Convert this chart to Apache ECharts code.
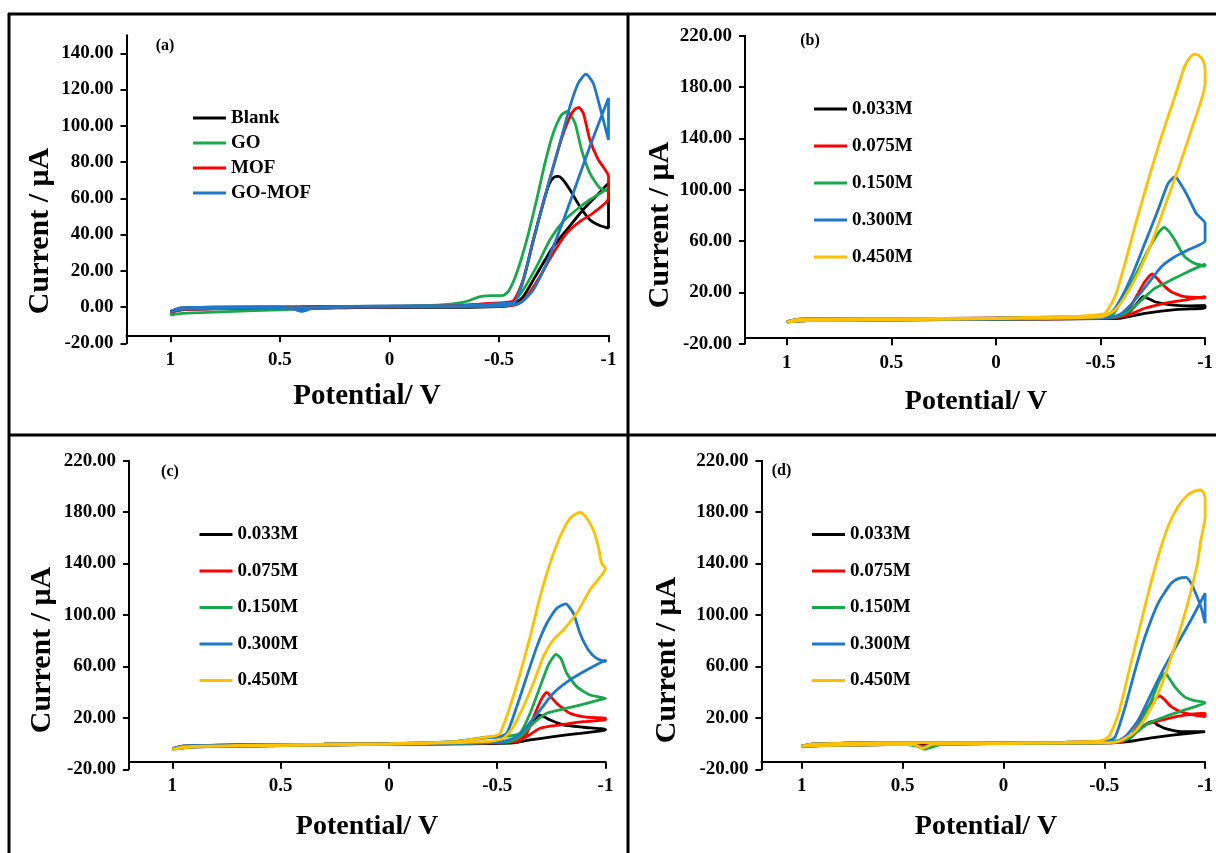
<!DOCTYPE html>
<html>
<head>
<meta charset="utf-8">
<script src="https://cdn.jsdelivr.net/npm/echarts@6/dist/echarts.min.js"></script>
<style>
  html, body { margin: 0; padding: 0; background: #ffffff; }
  #chart { width: 1216px; height: 853px; }
</style>
</head>
<body>
<div id="chart"></div>
<script>
// ---- axis ticks ----
const potentialTicks = [1, 0.5, 0, -0.5, -1];
const currentTicksA = [-20, 0, 20, 40, 60, 80, 100, 120, 140];
const currentTicksBCD = [-20, 20, 60, 100, 140, 180, 220];

// ---- legend names ----
const electrodeNames = ['Blank', 'GO', 'MOF', 'GO-MOF'];
const concNames = ['0.033M', '0.075M', '0.150M', '0.300M', '0.450M'];

// ---- (a) electrode comparison: [potential V, current µA] ----
const aBlank = [[1,-2.5],[0.95,-0.5],[0.8,0],[0.4,0.2],[0,0.5],[-0.3,0.8],[-0.45,1.5],[-0.52,2],[-0.566,2.2],[-0.611,15],[-0.657,37],[-0.702,57.4],[-0.73,68],[-0.75,71.5],[-0.771,72.1],[-0.79,70.5],[-0.824,64.7],[-0.869,55.5],[-0.915,48.2],[-0.96,45],[-1,43.6],
  [-1,68.4],[-0.95,62],[-0.884,53.7],[-0.809,42.6],[-0.748,33.4],[-0.702,24.3],[-0.657,15],[-0.611,5.8],[-0.566,1.3],[-0.5,0.2],[-0.3,-0.2],[0,0],[0.4,-0.8],[0.8,-1],[0.95,-1.5],[1,-2.5]];
const aGO = [[1,-4.5],[0.95,-3.5],[0.8,-2.8],[0.5,-1.5],[0.2,0],[-0.1,0.5],[-0.25,1.3],[-0.35,3],[-0.414,5.8],[-0.47,6.3],[-0.52,6.5],[-0.545,9],[-0.581,18.8],[-0.627,37.1],[-0.672,59.2],[-0.71,79.4],[-0.748,96],[-0.786,106.1],[-0.812,107.9],[-0.847,101.5],[-0.877,86.8],[-0.915,73.9],[-0.96,65.7],[-1,63.9],
  [-1,65.5],[-0.915,59.2],[-0.854,53.7],[-0.793,47.2],[-0.733,37.1],[-0.672,22.4],[-0.611,9.5],[-0.566,3],[-0.5,1],[-0.3,0.5],[0,0.3],[0.5,0],[0.9,-0.5],[0.97,-1.5],[1,-4.5]];
const aMOF = [[1,-3],[0.95,-1],[0.8,-0.5],[0.5,-0.3],[0.44,-1],[0.41,-1.8],[0.37,-1],[0.3,0],[0,0.3],[-0.3,0.8],[-0.45,2],[-0.52,2.5],[-0.566,3.5],[-0.611,15],[-0.657,37],[-0.702,57.4],[-0.74,74],[-0.786,93],[-0.824,105],[-0.845,109],[-0.865,110.1],[-0.885,107],[-0.915,92.3],[-0.953,81.3],[-1,72.1],
  [-1,60.1],[-0.93,51.9],[-0.869,47.2],[-0.809,40.8],[-0.748,29.8],[-0.687,16.9],[-0.627,5.8],[-0.58,1.3],[-0.5,0.5],[-0.2,0.3],[0.3,-0.2],[0.8,-0.8],[0.95,-1.5],[1,-3]];
const aGOMOF = [[1,-2.8],[0.95,-0.5],[0.8,0],[0.5,0],[0.44,-1],[0.4,-2.4],[0.36,-1],[0.3,0],[0,0.5],[-0.3,0.8],[-0.45,1.5],[-0.52,2],[-0.566,2.2],[-0.611,15],[-0.657,37],[-0.702,57.4],[-0.74,74],[-0.786,94],[-0.824,110.7],[-0.862,123.6],[-0.897,128.5],[-0.93,123.6],[-0.96,110.7],[-1,92.3],
  [-1,115.3],[-0.915,88.6],[-0.839,62.9],[-0.778,42.6],[-0.718,24.3],[-0.657,9.5],[-0.596,2.2],[-0.5,0.5],[0,0.2],[0.5,-0.5],[0.9,-1],[0.97,-1.5],[1,-2.8]];

// ---- (b) concentration series ----
const b033 = [[1,-3],[0.95,-1],[0.5,-0.5],[0,0],[-0.4,0.3],[-0.55,0.5],[-0.601,1],[-0.648,6.3],[-0.68,12.5],[-0.704,16.6],[-0.73,15],[-0.759,12.7],[-0.838,10.2],[-0.92,9.5],[-1,9.8],
  [-1,7.8],[-0.87,6.8],[-0.712,3.7],[-0.601,0],[-0.5,-0.5],[0,-1],[0.5,-1.5],[0.9,-2],[1,-3]];
const b075 = [[1,-3],[0.95,-1],[0.5,-0.5],[0,0],[-0.4,0.5],[-0.55,0.8],[-0.6,2.5],[-0.633,6.3],[-0.68,19.2],[-0.712,28.3],[-0.747,34.3],[-0.77,31],[-0.791,27],[-0.838,20.5],[-0.902,16.6],[-1,15.8],
  [-1,16.6],[-0.902,14],[-0.807,11.5],[-0.712,7.6],[-0.633,2.4],[-0.55,0],[0,-0.8],[0.5,-1.5],[0.9,-2],[1,-3]];
const b150 = [[1,-3],[0.95,-1],[0.5,-0.5],[0,0],[-0.4,0.8],[-0.5,1.5],[-0.56,3],[-0.601,14],[-0.664,32.2],[-0.728,53],[-0.775,66],[-0.804,70.7],[-0.83,67],[-0.855,60.8],[-0.902,47.8],[-0.95,42.6],[-1,40.5],
  [-1,42],[-0.918,36.1],[-0.838,29.6],[-0.759,23.1],[-0.696,14],[-0.633,4.9],[-0.56,0.5],[0,-0.8],[0.5,-1.5],[0.9,-2],[1,-3]];
const b300 = [[1,-3],[0.95,-1],[0.5,-0.5],[0,0],[-0.4,1],[-0.5,2],[-0.55,4],[-0.585,11.5],[-0.648,32.2],[-0.712,58.2],[-0.775,84.2],[-0.823,104.9],[-0.857,110.1],[-0.885,104],[-0.918,94.5],[-0.957,81.6],[-1,73.8],
  [-1,60.3],[-0.918,53],[-0.855,47.8],[-0.791,40],[-0.728,27],[-0.664,14],[-0.601,3.7],[-0.55,0.5],[0,-0.8],[0.5,-1.5],[0.9,-2],[1,-3]];
const b450 = [[1,-3],[0.95,-1],[0.5,-0.5],[0,0],[-0.4,1.5],[-0.48,2.5],[-0.522,3.7],[-0.569,16.6],[-0.617,42.6],[-0.664,71.2],[-0.728,107.6],[-0.791,141.3],[-0.855,172.5],[-0.902,195.9],[-0.93,203.5],[-0.95,205.7],[-0.97,204.5],[-0.989,201.1],[-1,193.3],
  [-1,182.9],[-0.934,146.5],[-0.87,115.4],[-0.807,86.8],[-0.743,58.2],[-0.68,34.9],[-0.617,16.6],[-0.569,6.3],[-0.506,1],[0,-0.5],[0.5,-1.5],[0.9,-2],[1,-3]];

// ---- (c) concentration series ----
const c033 = [[1,-4],[0.95,-2],[0.7,-1],[0.3,-0.5],[0,0],[-0.4,0.5],[-0.55,1],[-0.59,2.5],[-0.621,5.4],[-0.66,15.8],[-0.698,22.2],[-0.72,20.5],[-0.744,18.4],[-0.805,14.5],[-0.898,12.7],[-1,11.1],
  [-1,10.5],[-0.882,8],[-0.759,5.4],[-0.652,2.8],[-0.575,0.5],[-0.3,-0.3],[0,-0.5],[0.5,-1.5],[0.9,-2.5],[1,-4]];
const c075 = [[1,-4],[0.95,-2],[0.7,-1],[0.3,-0.5],[0,0],[-0.4,0.8],[-0.55,1.5],[-0.6,3],[-0.636,8],[-0.675,23.6],[-0.706,35.2],[-0.729,39.9],[-0.75,36],[-0.775,31.3],[-0.836,23.6],[-0.913,20.5],[-1,19.7],
  [-1,18.5],[-0.898,17],[-0.79,14.5],[-0.698,11.9],[-0.636,5.4],[-0.59,1.5],[-0.3,-0.3],[0,-0.5],[0.5,-1.5],[0.9,-2.5],[1,-4]];
const c150 = [[1,-4.5],[0.95,-2],[0.7,-1],[0.3,-0.5],[0,0],[-0.3,1.5],[-0.45,5],[-0.52,5.5],[-0.56,6],[-0.606,8],[-0.652,23.6],[-0.698,44.3],[-0.736,61.1],[-0.772,69.4],[-0.795,66],[-0.821,54.7],[-0.867,44.3],[-0.928,37.8],[-1,35.2],
  [-1,35],[-0.913,31.3],[-0.821,27.5],[-0.729,23.6],[-0.667,15.8],[-0.606,5.4],[-0.56,1.5],[-0.3,0],[0,-0.5],[0.5,-1.5],[0.9,-2.5],[1,-4.5]];
const c300 = [[1,-4],[0.95,-2],[0.7,-1],[0.3,-0.5],[0,0],[-0.3,1.5],[-0.45,4.5],[-0.5,5],[-0.544,8],[-0.59,28.7],[-0.636,52],[-0.683,75.4],[-0.729,93.6],[-0.775,105.2],[-0.816,108.6],[-0.852,101.3],[-0.882,85.8],[-0.921,72.8],[-0.959,66.3],[-1,63.7],
  [-1,65],[-0.913,57.2],[-0.836,49.5],[-0.759,39.1],[-0.698,26.1],[-0.636,13.1],[-0.575,4.1],[-0.5,1],[0,-0.5],[0.5,-1.5],[0.9,-2.5],[1,-4]];
const c450 = [[1,-4.5],[0.95,-2.5],[0.7,-1.5],[0.3,-0.5],[0,0],[-0.3,1.5],[-0.45,5],[-0.49,6],[-0.513,8],[-0.559,28.7],[-0.606,54.7],[-0.652,83.1],[-0.698,114.2],[-0.744,140.2],[-0.79,160.9],[-0.836,175.2],[-0.882,179.9],[-0.91,176],[-0.944,166.1],[-0.967,153.1],[-0.982,140.2],[-1,136.3],
  [-0.928,119.5],[-0.867,101.3],[-0.805,88.3],[-0.759,80.6],[-0.713,67.6],[-0.667,46.9],[-0.621,28.7],[-0.575,13.1],[-0.529,4.1],[-0.45,1.5],[0,-0.5],[0.5,-1.5],[0.9,-2.5],[1,-4.5]];

// ---- (d) concentration series ----
const d033 = [[1,-2],[0.95,-0.5],[0.6,0.8],[0.3,0.8],[0,0.5],[-0.4,0.8],[-0.55,1],[-0.604,1.5],[-0.653,8],[-0.702,14.5],[-0.738,17],[-0.77,14],[-0.8,11.9],[-0.881,9.3],[-1,9.3],
  [-1,9],[-0.849,6.7],[-0.718,4.1],[-0.62,1.5],[-0.5,0.5],[0,0],[0.5,-0.5],[0.9,-1.5],[1,-2]];
const d075 = [[1,-2],[0.95,-0.5],[0.6,0.8],[0.3,0.8],[0,0.5],[-0.3,1],[-0.5,1.5],[-0.58,2],[-0.62,4.1],[-0.669,14.5],[-0.718,28.7],[-0.775,37],[-0.8,34],[-0.832,28.7],[-0.881,24.8],[-0.946,22.2],[-1,20.9],
  [-1,23.6],[-0.897,22.2],[-0.8,18.9],[-0.702,14.5],[-0.637,6.7],[-0.59,1.5],[-0.5,0.5],[0,0],[0.35,-0.5],[0.4,-2],[0.45,-0.5],[0.9,-1.5],[1,-2]];
const d150 = [[1,-2],[0.95,-0.5],[0.6,0.8],[0.3,0.8],[0,0.5],[-0.3,1],[-0.5,1.5],[-0.6,2.5],[-0.637,5.4],[-0.686,18.4],[-0.735,33.9],[-0.775,49.5],[-0.803,54.7],[-0.825,50],[-0.849,44.3],[-0.897,36.5],[-0.946,33.4],[-1,31.8],
  [-0.897,26.1],[-0.8,20.9],[-0.718,15.8],[-0.653,8],[-0.604,2.8],[-0.5,0.5],[0,0],[0.3,-0.5],[0.36,-3],[0.39,-4.4],[0.43,-2],[0.5,-0.5],[0.9,-1.5],[1,-2]];
const d300 = [[1,-2],[0.95,-0.5],[0.6,0.8],[0.3,0.8],[0,0.5],[-0.3,1],[-0.5,1.5],[-0.53,2.5],[-0.555,5.4],[-0.604,28.7],[-0.653,57.2],[-0.702,83.1],[-0.767,109.1],[-0.832,124.7],[-0.87,128.5],[-0.906,129.3],[-0.93,125],[-0.946,119.5],[-0.979,106.5],[-1,93.6],
  [-1,116.9],[-0.93,96.1],[-0.865,78],[-0.8,59.8],[-0.734,39.1],[-0.669,18.4],[-0.604,5.4],[-0.55,1],[0,0],[0.35,-0.5],[0.4,-2.5],[0.45,-0.5],[0.9,-1.5],[1,-2]];
const d450 = [[1,-2],[0.95,-0.5],[0.6,0.8],[0.3,0.8],[0,0.5],[-0.3,1],[-0.48,2],[-0.523,5.4],[-0.571,23.6],[-0.62,54.7],[-0.669,85.8],[-0.718,116.9],[-0.767,145.4],[-0.816,168.7],[-0.865,184.2],[-0.914,193.3],[-0.95,196.5],[-0.976,197.2],[-0.993,195],[-1,190],
  [-1,176.5],[-0.979,158.3],[-0.962,140.2],[-0.914,109.1],[-0.865,83.1],[-0.816,59.8],[-0.767,39.1],[-0.718,23.6],[-0.653,9.3],[-0.588,2.8],[-0.55,1],[0,0],[0.35,-0.5],[0.4,-3.5],[0.45,-0.5],[0.9,-1.5],[1,-2]];

// ---- drawing ----
const SERIF = 'Liberation Serif';
const colorsA = ['#000000', '#18a94c', '#ff0000', '#1f78c8'];
const colorsC = ['#000000', '#ff0000', '#18a94c', '#1f78c8', '#ffc000'];

const panels = [
  { grid: { left: 126.5, top: 35.2, width: 482, height: 308.1 }, yMax: 150, yTicks: currentTicksA, xOffset: -8,
    names: electrodeNames, colors: colorsA, data: [aBlank, aGO, aMOF, aGOMOF],
    legend: { left: 193, top: 108, itemGap: 5 }, tag: '(a)', tagPos: [165, 46],
    xName: [367, 397, 29], yName: [40, 231] },
  { grid: { left: 745, top: 35.7, width: 462, height: 308 }, yMax: 220, yTicks: currentTicksBCD, xOffset: -5.5,
    names: concNames, colors: colorsC, data: [b033, b075, b150, b300, b450],
    legend: { left: 814, top: 99, itemGap: 17 }, tag: '(b)', tagPos: [810, 41],
    xName: [976, 402, 28], yName: [660, 225] },
  { grid: { left: 129, top: 460.7, width: 476.5, height: 308.6 }, yMax: 220, yTicks: currentTicksBCD, xOffset: -7.5,
    names: concNames, colors: colorsC, data: [c033, c075, c150, c300, c450],
    legend: { left: 199.5, top: 524.5, itemGap: 16.5 }, tag: '(c)', tagPos: [170, 472],
    xName: [367, 827, 28], yName: [42, 650] },
  { grid: { left: 761.5, top: 460.7, width: 449.5, height: 308.6 }, yMax: 220, yTicks: currentTicksBCD, xOffset: -7.5,
    names: concNames, colors: colorsC, data: [d033, d075, d150, d300, d450],
    legend: { left: 812, top: 524.5, itemGap: 16.5 }, tag: '(d)', tagPos: [781.5, 471],
    xName: [986, 827, 28], yName: [667, 660] }
];

const labelFont = { fontFamily: SERIF, fontWeight: 'bold', fontSize: 19, color: '#000' };
const option = {
  animation: false,
  backgroundColor: '#ffffff',
  textStyle: { fontFamily: SERIF },
  grid: [], xAxis: [], yAxis: [], series: [], legend: [], graphic: { elements: [] }
};

function txt(str, x, y, size, rot) {
  return {
    type: 'text', x: x, y: y, rotation: rot || 0, silent: true,
    style: {
      text: str, fill: '#000', font: 'bold ' + size + 'px "' + SERIF + '"',
      align: 'center', verticalAlign: 'middle', textAlign: 'center', textVerticalAlign: 'middle'
    }
  };
}

panels.forEach((p, i) => {
  option.grid.push(p.grid);
  option.xAxis.push({
    type: 'value', gridIndex: i, min: -1, max: 1.2, inverse: true, offset: p.xOffset,
    axisLine: { show: true, onZero: false, lineStyle: { color: '#000', width: 2 } },
    axisTick: { show: true, length: 7, lineStyle: { color: '#000', width: 2 }, customValues: potentialTicks },
    axisLabel: Object.assign({ margin: 15, customValues: potentialTicks }, labelFont),
    splitLine: { show: false }
  });
  option.yAxis.push({
    type: 'value', gridIndex: i, min: -20, max: p.yMax,
    axisLine: { show: true, onZero: false, lineStyle: { color: '#000', width: 2 } },
    axisTick: { show: true, length: 6, lineStyle: { color: '#000', width: 2 }, customValues: p.yTicks },
    axisLabel: Object.assign({ margin: 13, customValues: p.yTicks, formatter: v => Number(v).toFixed(2) }, labelFont),
    splitLine: { show: false }
  });
  p.names.forEach((name, k) => {
    option.series.push({
      type: 'line', name: name, xAxisIndex: i, yAxisIndex: i, data: p.data[k],
      symbol: 'none', showSymbol: false, smooth: 0.2, clip: false,
      lineStyle: { color: p.colors[k], width: 2.8 },
      itemStyle: { color: p.colors[k] }, z: 2 + k
    });
  });
  option.legend.push({
    orient: 'vertical', left: p.legend.left, top: p.legend.top, itemGap: p.legend.itemGap,
    icon: 'rect', itemWidth: 33, itemHeight: 3, selectedMode: false, padding: 0,
    data: p.names,
    textStyle: { fontFamily: SERIF, fontWeight: 'bold', fontSize: 19, lineHeight: 20, color: '#000' }
  });
  const g = option.graphic.elements;
  g.push(txt(p.tag, p.tagPos[0], p.tagPos[1], 16));
  g.push(txt('Potential/ V', p.xName[0], p.xName[1], p.xName[2]));
  g.push(txt('Current / μA', p.yName[0], p.yName[1], 30, Math.PI / 2));
});

// panel frames
const frame = [
  [8, 14, 1216, 14], [8, 435, 1216, 435], [9, 13, 9, 853], [628, 13, 628, 853]
];
frame.forEach(s => option.graphic.elements.push({
  type: 'line', silent: true,
  shape: { x1: s[0], y1: s[1], x2: s[2], y2: s[3] },
  style: { stroke: '#000', lineWidth: 3 }
}));

const chart = echarts.init(document.getElementById('chart'), null, { renderer: 'canvas' });
chart.setOption(option);
</script>
</body>
</html>
